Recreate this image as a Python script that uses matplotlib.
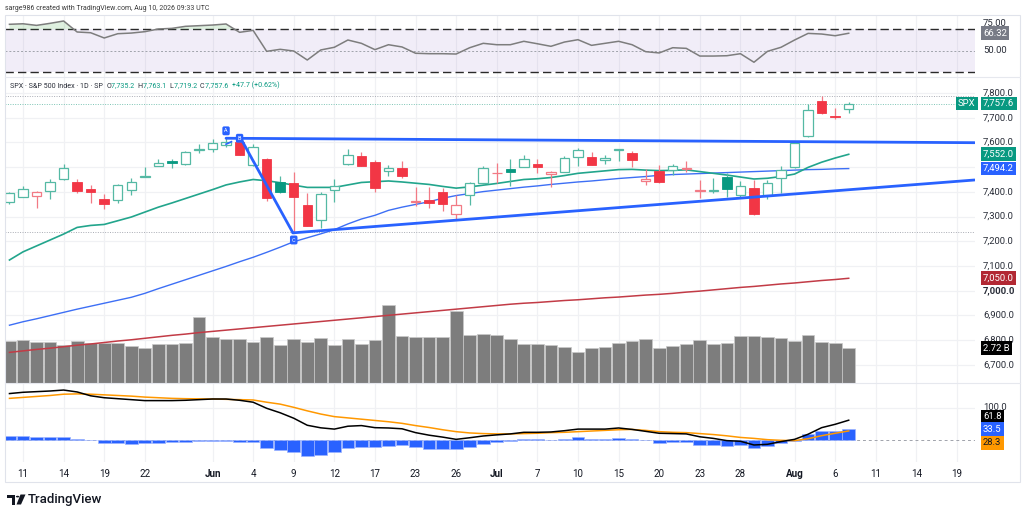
import matplotlib
matplotlib.use('Agg')
import matplotlib.pyplot as plt
import matplotlib.transforms as mtransforms
from matplotlib.patches import Rectangle, Polygon, Circle
from matplotlib.lines import Line2D
from matplotlib.text import Annotation
import numpy as np

plt.rcParams['font.family'] = ['Roboto', 'DejaVu Sans']

# ---------------- data ----------------
tick_pos = [1, 4, 7, 10, 15, 18, 21, 24, 27, 30, 33, 36, 39, 42, 45, 48, 51, 54, 58, 61, 64, 67, 70]
tick_labels = ['11', '14', '19', '22', 'Jun', '4', '9', '12', '17', '23', '26', 'Jul',
               '7', '10', '15', '20', '23', '28', 'Aug', '6', '11', '14', '19']
month_labels = ['Jun', 'Jul', 'Aug']

opens = [7357, 7380, 7385, 7404, 7450, 7441, 7411, 7369, 7367, 7407,
         7462, 7504, 7525, 7514, 7571, 7574, 7590, 7603, 7508, 7535,
         7438, 7434, 7346, 7286, 7407, 7512, 7545, 7522, 7483, 7495,
         7360, 7366, 7400, 7310, 7387, 7434, 7476, 7491, 7502, 7512,
         7472, 7481, 7542, 7542, 7529, 7571, 7556, 7445, 7485, 7489,
         7494, 7403, 7404, 7461, 7387, 7414, 7387, 7455, 7499, 7626,
         7769, 7706, 7735.2]
highs = [7400, 7425, 7405, 7454, 7512, 7450, 7427, 7390, 7430, 7458,
         7499, 7531, 7531, 7565, 7593, 7615, 7620, 7610, 7593, 7538,
         7464, 7481, 7394, 7400, 7450, 7572, 7561, 7529, 7508, 7524,
         7420, 7420, 7416, 7387, 7441, 7504, 7518, 7535, 7549, 7531,
         7483, 7545, 7576, 7560, 7549, 7575, 7566, 7491, 7508, 7513,
         7526, 7448, 7455, 7475, 7445, 7448, 7448, 7505, 7606, 7756,
         7788, 7738, 7763.1]
lows = [7350, 7378, 7336, 7373, 7448, 7394, 7353, 7332, 7353, 7388,
        7461, 7503, 7498, 7507, 7558, 7560, 7582, 7548, 7506, 7363,
        7394, 7238, 7262, 7255, 7360, 7510, 7505, 7400, 7465, 7458,
        7342, 7333, 7323, 7292, 7346, 7432, 7437, 7425, 7500, 7477,
        7418, 7479, 7504, 7507, 7512, 7524, 7502, 7427, 7437, 7468,
        7482, 7374, 7394, 7380, 7380, 7308, 7370, 7397, 7497, 7624,
        7716, 7695, 7719.2]
closes = [7394, 7410, 7398, 7441, 7498, 7404, 7398, 7349, 7429, 7440,
          7464, 7515, 7517, 7561, 7574, 7596, 7603, 7549, 7580, 7377,
          7400, 7380, 7263, 7390, 7425, 7549, 7506, 7414, 7495, 7466,
          7363, 7353, 7352, 7348, 7434, 7495, 7478, 7480, 7535, 7499,
          7481, 7539, 7569, 7508, 7538, 7574, 7529, 7454, 7438, 7505,
          7496, 7406, 7408, 7410, 7424, 7310, 7434, 7488, 7596, 7731,
          7718, 7703, 7757.6]

ma_green = [7124, 7157, 7181, 7205, 7229, 7256, 7264, 7268, 7283, 7298,
            7318, 7338, 7355, 7373, 7391, 7409, 7428, 7440, 7450, 7445,
            7437, 7427, 7418, 7418, 7418, 7428, 7438, 7441, 7444, 7440,
            7435, 7430, 7422, 7415, 7420, 7427, 7434, 7442, 7450, 7453,
            7458, 7466, 7475, 7480, 7485, 7490, 7491, 7488, 7486, 7487,
            7489, 7482, 7475, 7468, 7460, 7452, 7455, 7462, 7472, 7499,
            7520, 7537, 7552]
ma_blue = [6860, 6874, 6886, 6899, 6912, 6925, 6937, 6949, 6961, 6973,
           6989, 7008, 7026, 7044, 7062, 7080, 7098, 7117, 7135, 7155,
           7176, 7198, 7214, 7230, 7247, 7270, 7290, 7305, 7325, 7338,
           7349, 7360, 7374, 7385, 7393, 7401, 7407, 7413, 7419, 7424,
           7430, 7435, 7440, 7444, 7449, 7454, 7458, 7462, 7467, 7470,
           7472, 7474, 7476, 7478, 7480, 7482, 7484, 7486, 7488, 7490,
           7491, 7493, 7494.2]
ma_red = [6750, 6756, 6762, 6767, 6773, 6779, 6784, 6790, 6796, 6801,
          6807, 6813, 6819, 6824, 6830, 6835, 6840, 6845, 6850, 6855,
          6860, 6865, 6870, 6875, 6880, 6885, 6890, 6895, 6900, 6905,
          6910, 6915, 6920, 6925, 6930, 6935, 6940, 6945, 6949, 6952,
          6956, 6960, 6963, 6967, 6971, 6974, 6978, 6982, 6985, 6989,
          6994, 6998, 7003, 7008, 7013, 7017, 7022, 7027, 7031, 7036,
          7041, 7045, 7050]

volume_b = [3.27, 3.35, 3.22, 3.22, 2.98, 3.27, 3.09, 3.14, 3.14, 2.90,
            2.69, 3.03, 3.03, 3.14, 5.12, 3.61, 3.40, 3.40, 3.17, 3.54,
            2.96, 3.40, 3.22, 3.48, 2.96, 3.40, 3.06, 3.35, 6.04, 3.67,
            3.54, 3.54, 3.54, 5.59, 3.75, 3.83, 3.72, 3.46, 3.06, 3.01,
            2.93, 2.82, 2.40, 2.72, 2.82, 3.14, 3.25, 3.40, 2.74, 2.88,
            3.01, 3.35, 3.06, 3.14, 3.67, 3.67, 3.61, 3.51, 3.25, 3.72,
            3.22, 3.11, 2.72]

rsi = [74.7, 75.2, 73.7, 75.6, 77.8, 67.5, 66.8, 61.9, 65.9, 66.5,
       67.8, 70.3, 70.9, 72.8, 73.4, 74.0, 75.0, 67.2, 69.0, 49.4,
       51.3, 49.7, 41.3, 50.7, 53.2, 60.0, 56.9, 51.0, 55.6, 53.5,
       47.6, 47.2, 47.2, 46.9, 52.8, 56.9, 55.6, 55.6, 58.8, 56.5,
       54.1, 58.1, 60.3, 55.0, 56.9, 58.8, 55.6, 49.1, 47.9, 52.8,
       52.2, 45.0, 45.0, 45.3, 47.2, 39.2, 49.4, 53.2, 60.0, 66.2,
       65.6, 64.0, 66.32]

osc_black = [145, 149, 151, 153, 156, 150, 138, 132, 129, 126,
             123, 123, 123, 124, 126, 128, 128, 124, 118, 99,
             85, 68, 46, 38, 34, 43, 45, 38.5, 37.5, 35,
             23, 15, 9, 2, 7, 12.5, 16, 19, 24, 24,
             25, 29, 34, 34, 34, 37.5, 33, 27, 21, 20,
             19, 10, 5, -2, -4, -15.6, -13.5, -5, 2, 18,
             38.5, 49, 61.8]
osc_orange = [130, 133, 136, 139, 143, 144, 143, 141, 139, 137,
              134, 132, 130, 129, 128.5, 128, 127, 126, 125, 118,
              112, 102, 91, 81, 73, 69, 65, 61, 57, 52,
              45, 39, 32, 26, 22, 20, 19, 19, 20, 21,
              23, 24, 26, 28, 30, 32, 33, 30, 26, 24,
              23, 20, 17, 13, 8, 5, 1, -1, -2, 4,
              13.5, 21, 28.3]
osc_hist = [13.5, 13.5, 10, 8, 10, 3, -1, -10, -10, -13.5,
            -10, -8, -7, -5, -4, -3, -4, -6, -7, -24,
            -31, -37.5, -49, -46, -37.5, -26, -21, -22, -18, -16,
            -23, -27, -27, -28, -21, -12.5, -7, -4, 2, 2,
            0, 4, 8, 3, 3, 5, 2, -1, -8, -5,
            -5, -14.6, -16.7, -18.8, -16.7, -24, -18.8, -10, -2, 17.7,
            27, 29, 33.5]

# drawing (trendline) anchor points: (bar index, price)
upper_line = [(16.0, 7617), (71.3, 7599)]
leg_bc = [(17.15, 7610), (20.94, 7234)]
lower_line = [(20.94, 7234), (71.3, 7448)]
pt_labels = [('A', 16.0, 7647), ('B', 17.0, 7617), ('C', 21.0, 7205)]

price_ticks = [7800, 7700, 7600, 7400, 7300, 7200, 7100, 7000, 6900, 6800, 6700]

header_parts = [('SPX · S&P 500 Index · 1D · SP  ', 'dark'), ('O', 'dark'), ('7,735.2  ', 'up'),
                ('H', 'dark'), ('7,763.1  ', 'up'), ('L', 'dark'), ('7,719.2  ', 'up'),
                ('C', 'dark'), ('7,757.6  ', 'up'), ('+47.7 (+0.62%)', 'up')]

# ---------------- style ----------------
GREEN = '#089981'
GREEN_L = '#55b9a4'
RED = '#f23645'
RED_L = '#f27a85'
BLUE = '#2962ff'
GRID = '#f0f1f4'
TXT = '#131722'

W, H = 1024, 516
fig = plt.figure(figsize=(W / 100, H / 100), dpi=100)
fig.patch.set_facecolor('white')


def rect(x0, y0, x1, y1):
    return [x0 / W, 1 - y1 / H, (x1 - x0) / W, (y1 - y0) / H]


XL = (-0.33, 71.33)
ax_rsi = fig.add_axes(rect(5, 15, 975, 77))
ax_vol = fig.add_axes(rect(5, 77, 975, 383), zorder=0)
ax = fig.add_axes(rect(5, 77, 975, 383), zorder=1)
ax_bot = fig.add_axes(rect(5, 383, 975, 462))

for a in (ax_rsi, ax_vol, ax, ax_bot):
    a.set_xlim(*XL)
    for s in a.spines.values():
        s.set_visible(False)
    a.set_yticks([])
    a.set_xticks([])
ax.patch.set_visible(False)

n = len(closes)
x = np.arange(n)

for a in (ax_rsi, ax_vol, ax_bot):
    for t in tick_pos:
        a.axvline(t, color=GRID, lw=0.9, zorder=0)

# ---------------- RSI pane ----------------
ax_rsi.set_ylim(25.4, 83.4)
ax_rsi.axhspan(30, 70, color='#7e57c2', alpha=0.10, lw=0, zorder=1)
ax_rsi.axhline(70, color='#2a2a2a', ls=(0, (6, 3)), lw=1.0, zorder=2)
ax_rsi.axhline(30, color='#2a2a2a', ls=(0, (6, 3)), lw=1.0, zorder=2)
ax_rsi.axhline(50, color='#a0a3ab', ls=(0, (2, 2)), lw=0.7, zorder=2)
rsi_a = np.array(rsi)
ax_rsi.fill_between(x, rsi_a, 70, where=rsi_a > 70, interpolate=True,
                    color='#4caf50', alpha=0.18, lw=0, zorder=2)
ax_rsi.plot(x, rsi_a, color='#7d7d7d', lw=1.1, zorder=3)

# ---------------- main pane ----------------
ax.set_ylim(6626, 7865)
ax_vol.set_ylim(0, 23.8)
for p in range(6700, 7900, 100):
    ax_vol.add_line(Line2D([XL[0], XL[1]], [p, p], color=GRID, lw=0.9,
                           transform=ax.transData, zorder=0))
ax_vol.bar(x, volume_b, 0.94, color='#7d7d7d', edgecolor='#c9c9c9', lw=0.5, zorder=2)

ax.axhline(max(highs), color='#a9acb4', ls=(0, (1, 1.5)), lw=0.7, zorder=1)
ax.axhline(min(lows), color='#a9acb4', ls=(0, (1, 1.5)), lw=0.7, zorder=1)
ax.axhline(closes[-1], color='#7cc4b4', ls=(0, (1, 1.5)), lw=0.7, zorder=1)

ax.plot(x, ma_red, color='#c23b46', lw=1.1, zorder=2)
ax.plot(x, ma_blue, color='#3d6ff5', lw=1.0, zorder=2)
ax.plot(x, ma_green, color='#22a58c', lw=1.2, zorder=2)

for i in range(n):
    o, h, l, c = opens[i], highs[i], lows[i], closes[i]
    prev = closes[i - 1] if i > 0 else o
    up = c >= prev
    col = GREEN if up else RED
    light = GREEN_L if up else RED_L
    ax.vlines(i, l, h, color=light, lw=0.9, zorder=3)
    bottom = min(o, c)
    height = max(abs(c - o), 0.8)
    if c >= o:
        ax.bar(i, height, 0.7, bottom, facecolor='white', edgecolor=light, lw=0.9, zorder=4)
    else:
        ax.bar(i, height, 0.7, bottom, facecolor=col, edgecolor=col, lw=0.6, zorder=4)

for seg in (upper_line, leg_bc, lower_line):
    xs, ys = zip(*seg)
    ax.plot(xs, ys, color=BLUE, lw=2.0, solid_capstyle='round', zorder=5)
ax.plot([16.0, 16.4], [7593, 7603], color=BLUE, lw=1.2, zorder=5)
for lab, px, py in pt_labels:
    ax.text(px, py, lab, fontsize=4, color='white', ha='center', va='center', zorder=6,
            bbox=dict(boxstyle='round,pad=0.35,rounding_size=0.3', fc=BLUE, ec='none'))

# ---------------- bottom pane ----------------
ax_bot.set_ylim(-68.75, 178)
ax_bot.axhline(100, color=GRID, lw=0.9, zorder=0)
ax_bot.axhline(0, color='#a0a3ab', ls=(0, (3, 3)), lw=0.7, zorder=1)
ax_bot.bar(x, osc_hist, 0.94, color=BLUE, edgecolor='#9db4ff', lw=0.5, zorder=2)
ax_bot.plot(x, osc_orange, color='#ff9800', lw=1.1, zorder=3)
ax_bot.plot(x, osc_black, color='#000000', lw=1.1, zorder=4)

ax_bot.set_xticks(tick_pos)
ax_bot.set_xticklabels(tick_labels, fontsize=7, color=TXT)
for tl in ax_bot.get_xticklabels():
    if tl.get_text() in month_labels:
        tl.set_fontweight('bold')
ax_bot.tick_params(axis='x', length=0, pad=5)


# ---------------- right-side labels ----------------
def rlabel(axis, yval, s, fc=None, tc='#2a2e39', xpx=983, z=10, weight='normal', ytrans=None):
    tr = mtransforms.blended_transform_factory(fig.transFigure,
                                               (ytrans or axis).transData)
    kw = {}
    if fc is not None:
        kw['bbox'] = dict(boxstyle='square,pad=0.25', fc=fc, ec='none')
    axis.text(xpx / W, yval, s, transform=tr, fontsize=6.8, color=tc, ha='left',
              va='center', clip_on=False, zorder=z, fontweight=weight, **kw)


rlabel(ax_rsi, 75, '75.00')
rlabel(ax_rsi, 50, '50.00')
rlabel(ax_rsi, 66.32, '66.32', fc='#787b86', tc='white', z=12)

for p in price_ticks:
    rlabel(ax, p, f'{p:,.1f}', weight='bold' if p == 7000 else 'normal')
rlabel(ax, closes[-1], f'{closes[-1]:,.1f}', fc=GREEN, tc='white', z=12)
rlabel(ax, closes[-1], 'SPX', fc=GREEN, tc='white', xpx=958, z=12)
rlabel(ax, ma_green[-1], f'{ma_green[-1]:,.1f}', fc=GREEN, tc='white', z=12)
rlabel(ax, ma_blue[-1], f'{ma_blue[-1]:,.1f}', fc=BLUE, tc='white', z=12)
rlabel(ax, ma_red[-1], f'{ma_red[-1]:,.1f}', fc='#b22833', tc='white', z=12)
rlabel(ax, volume_b[-1], f'{volume_b[-1]:.2f} B', fc='#000000', tc='white', z=12, ytrans=ax_vol)

rlabel(ax_bot, 100, '100.0')
rlabel(ax_bot, 72, f'{osc_black[-1]:.1f}', fc='#000000', tc='white', z=12)
rlabel(ax_bot, 33.5, f'{osc_hist[-1]:.1f}', fc=BLUE, tc='white', z=12)
rlabel(ax_bot, -9, f'{osc_orange[-1]:.1f}', fc='#ff9800', tc='#131722', z=12)

# ---------------- frame, header, footer ----------------
fig.patches.append(Rectangle((5 / W, 1 - 482 / H), 1015 / W, 467 / H, transform=fig.transFigure,
                             fill=False, ec='#e0e3eb', lw=0.8))
for ypx in (77, 383):
    fig.add_artist(Line2D([5 / W, 1020 / W], [1 - ypx / H] * 2, transform=fig.transFigure,
                          color='#e6e8ee', lw=0.8))

fig.text(5 / W, 1 - 8 / H, 'sarge986 created with TradingView.com, Aug 10, 2026 09:33 UTC',
         fontsize=5.0, color='#3a3a3a', va='center', ha='left')

HCOL = {'dark': '#2a2e39', 'up': GREEN}
prev_t = fig.text(10 / W, 1 - 86 / H, header_parts[0][0], fontsize=5.1,
                  color=HCOL[header_parts[0][1]], va='center', ha='left')
for s, c in header_parts[1:]:
    prev_t = fig.add_artist(Annotation(s, xy=(1, 0), xycoords=prev_t, fontsize=5.1,
                                       color=HCOL[c], va='bottom', ha='left'))


def P(xp, yp):
    return (xp / W, 1 - yp / H)


fig.patches.append(Polygon([P(7, 494.5), P(15, 494.5), P(15, 504.5), P(11.5, 504.5), P(11.5, 498), P(7, 498)],
                           closed=True, transform=fig.transFigure, fc=TXT, ec='none'))
fig.patches.append(Circle(P(17.6, 496.6), 1.7 / W, transform=fig.transFigure, fc=TXT, ec='none'))
fig.patches.append(Polygon([P(20.5, 494.5), P(25.5, 494.5), P(21, 504.5), P(16.5, 504.5)],
                           closed=True, transform=fig.transFigure, fc=TXT, ec='none'))
fig.text(28 / W, 1 - 500 / H, 'TradingView', fontsize=9.5, color=TXT, va='center', ha='left',
         fontweight='medium')

fig.savefig('out.png', dpi=100, facecolor='white')
